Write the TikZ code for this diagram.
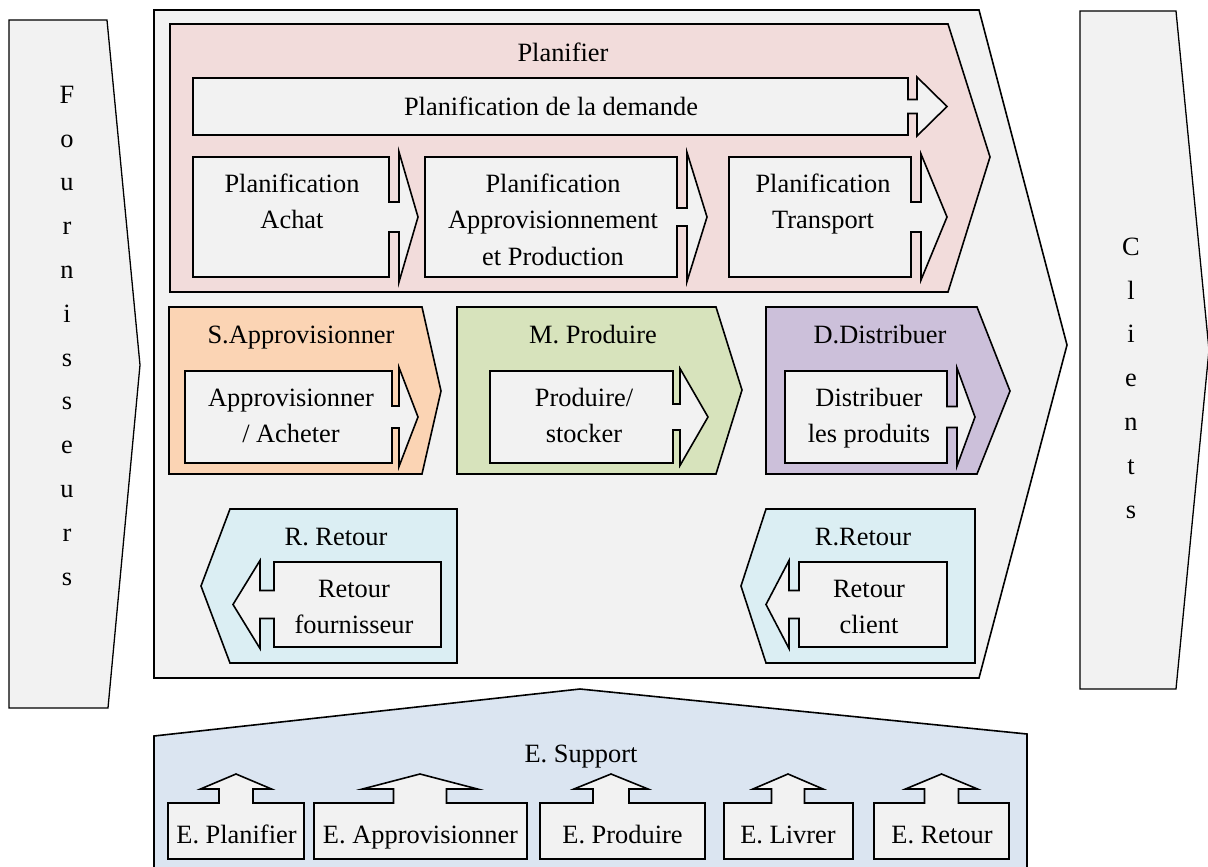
\documentclass[tikz,border=0pt]{standalone}
\usepackage{fontspec}
\setmainfont{Liberation Serif}
\definecolor{panel}{HTML}{F2F2F2}
\definecolor{planpink}{HTML}{F2DCDB}
\definecolor{srcorange}{HTML}{FBD4B4}
\definecolor{makegreen}{HTML}{D7E3BC}
\definecolor{delpurple}{HTML}{CCC0DA}
\definecolor{retblue}{HTML}{DBEEF3}
\definecolor{supblue}{HTML}{DBE5F1}

% right-pointing callout: left, top, right, bottom, neck x, neck half, head half, tip x
\newcommand{\callright}[8]{%
  \draw[callbox] (#1,#2) -- (#3,#2) -- (#3,{(#2+#4)/2-#6}) -- (#5,{(#2+#4)/2-#6})
    -- (#5,{(#2+#4)/2-#7}) -- (#8,{(#2+#4)/2}) -- (#5,{(#2+#4)/2+#7})
    -- (#5,{(#2+#4)/2+#6}) -- (#3,{(#2+#4)/2+#6}) -- (#3,#4) -- (#1,#4) -- cycle;}
% left-pointing callout: left, top, right, bottom, neck x, neck half, head half, tip x
\newcommand{\callleft}[8]{%
  \draw[callbox] (#3,#2) -- (#1,#2) -- (#1,{(#2+#4)/2-#6}) -- (#5,{(#2+#4)/2-#6})
    -- (#5,{(#2+#4)/2-#7}) -- (#8,{(#2+#4)/2}) -- (#5,{(#2+#4)/2+#7})
    -- (#5,{(#2+#4)/2+#6}) -- (#1,{(#2+#4)/2+#6}) -- (#1,#4) -- (#3,#4) -- cycle;}
% up-pointing callout: left, right, arrow centre, neck half, head half
\newcommand{\callup}[5]{%
  \draw[callbox] (#1,859) -- (#1,803) -- ({#3-#4},803) -- ({#3-#4},789)
    -- ({#3-#5},789) -- (#3,774) -- ({#3+#5},789) -- ({#3+#4},789)
    -- ({#3+#4},803) -- (#2,803) -- (#2,859) -- cycle;}

\begin{document}
\begin{tikzpicture}[x=1pt,y=-1pt,line join=miter,
  outline/.style={draw=black,line width=1.6pt},
  callbox/.style={outline,fill=panel},
  lbl/.style={font=\fontsize{26.4}{36.5}\selectfont,align=center,inner sep=0pt,
    anchor=north,yshift=25.55pt},
  vword/.style={font=\fontsize{26.4}{43.8}\selectfont,align=center,inner sep=0pt,
    anchor=north,yshift=30.66pt}]
\useasboundingbox (0,0) rectangle (1208,867);
\clip (0,0) rectangle (1208,867);

% suppliers and customers
\draw[outline,line width=1.3pt,fill=panel] (9,20) -- (107,20) -- (140,365) -- (108,708) -- (9,708) -- cycle;
\draw[outline,line width=1.3pt,fill=panel] (1080,11) -- (1176,11) -- (1209,350) -- (1176,689) -- (1080,689) -- cycle;
\node[vword] (fourn) at (67,103) {\strut F\\o\\u\\r\\n\\i\\s\\s\\e\\u\\r\\s};
\node[vword] (clients) at (1131,255) {\strut C\\l\\i\\e\\n\\t\\s};

% main process chevron
\draw[outline,fill=panel] (154,10) -- (979,10) -- (1067,345) -- (979,678) -- (154,678) -- cycle;

% Plan
\draw[outline,fill=planpink] (170,24) -- (948,24) -- (990,157) -- (948,292) -- (170,292) -- cycle;
\node[lbl] (plan) at (563,61) {\strut Planifier};
\callright{193}{78}{908}{135}{917}{7}{29.5}{947}
\node[lbl] (demande) at (551,115) {\strut Planification de la demande};
\callright{193}{157}{389}{277}{399}{15}{65}{418}
\node[lbl] (achat) at (292,192) {\strut Planification\\Achat};
\callright{425}{157}{677}{277}{687}{9}{64.5}{707}
\node[lbl] (approprod) at (553,192) {\strut Planification\\Approvisionnement\\et Production};
\callright{729}{157}{911}{277}{921}{15}{63}{947}
\node[lbl] (transport) at (823,192) {\strut Planification\\Transport};

% Source
\draw[outline,fill=srcorange] (169,307) -- (422,307) -- (441,391) -- (422,474) -- (169,474) -- cycle;
\node[lbl] (source) at (301,343) {\strut S.Approvisionner};
\callright{185}{371}{392}{463}{399}{11}{49.5}{418}
\node[lbl] (acheter) at (291,406) {\strut Approvisionner\\/ Acheter};

% Make
\draw[outline,fill=makegreen] (457,307) -- (716,307) -- (742,390) -- (716,474) -- (457,474) -- cycle;
\node[lbl] (make) at (593,343) {\strut M. Produire};
\callright{490}{371}{673}{463}{680}{13}{48.5}{708}
\node[lbl] (stocker) at (584,406) {\strut Produire/\\stocker};

% Deliver
\draw[outline,fill=delpurple] (766,307) -- (977,307) -- (1010,391) -- (977,474) -- (766,474) -- cycle;
\node[lbl] (deliver) at (880,343) {\strut D.Distribuer};
\callright{785}{371}{947}{463}{957}{10.5}{49}{975}
\node[lbl] (produits) at (869,406) {\strut Distribuer\\les produits};

% Returns
\draw[outline,fill=retblue] (457,509) -- (230,509) -- (201,586) -- (230,663) -- (457,663) -- cycle;
\node[lbl] (retsrc) at (336,545) {\strut R. Retour};
\callleft{274}{562}{441}{647}{260}{14}{44}{233}
\node[lbl] (retfourn) at (354,597) {\strut Retour\\fournisseur};

\draw[outline,fill=retblue] (975,509) -- (766,509) -- (741,586) -- (766,663) -- (975,663) -- cycle;
\node[lbl] (retdel) at (863,545) {\strut R.Retour};
\callleft{799}{562}{947}{647}{789}{14}{44}{766}
\node[lbl] (retclient) at (869,597) {\strut Retour\\client};

% Enable
\draw[outline,fill=supblue] (154,736) -- (580,689) -- (1027,734) -- (1027,880) -- (154,880) -- cycle;
\node[lbl] (enable) at (581,762) {\strut E. Support};
\callup{168}{304}{236}{17}{35.5}
\node[lbl] (eplan) at (236.5,843) {\strut E. Planifier};
\callup{314}{527}{420}{26.5}{57.5}
\node[lbl] (eappro) at (420.5,843) {\strut E. Approvisionner};
\callup{540}{705}{611}{18}{37}
\node[lbl] (eprod) at (622.5,843) {\strut E. Produire};
\callup{724}{853}{788}{16.5}{35}
\node[lbl] (elivrer) at (788,843) {\strut E. Livrer};
\callup{874}{1009}{941.5}{17}{36}
\node[lbl] (eretour) at (942,843) {\strut E. Retour};
\end{tikzpicture}
\end{document}
